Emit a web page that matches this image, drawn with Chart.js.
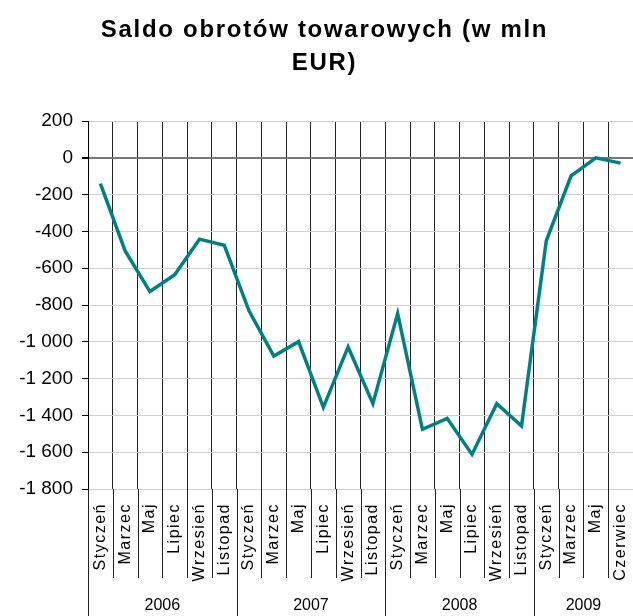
<!DOCTYPE html>
<html>
<head>
<meta charset="utf-8">
<script src="https://cdn.jsdelivr.net/npm/chart.js@4/dist/chart.umd.min.js"></script>
<style>
  html, body { margin: 0; padding: 0; background: #fff; }
  #wrap { width: 633px; height: 616px; position: relative; }
</style>
</head>
<body>
<div id="wrap"><canvas id="c"></canvas></div>
<script>
const titleLines = ['Saldo obrotów towarowych (w mln', 'EUR)'];
const months = ['Styczeń','Marzec','Maj','Lipiec','Wrzesień','Listopad',
                'Styczeń','Marzec','Maj','Lipiec','Wrzesień','Listopad',
                'Styczeń','Marzec','Maj','Lipiec','Wrzesień','Listopad',
                'Styczeń','Marzec','Maj','Czerwiec'];
const years = ['2006','2007','2008','2009'];
const yearCounts = [6, 6, 6, 4];
const saldo = [-140, -506, -727, -636, -442, -475,
               -832, -1077, -999, -1356, -1028, -1336,
               -847, -1476, -1416, -1612, -1336, -1458,
               -451, -98, 0, -29];
const yMin = -1800, yMax = 200, yStep = 200;

function fmt(v) {
  const s = v < 0 ? '-' : '';
  const a = Math.abs(v);
  if (a >= 1000) {
    const th = Math.floor(a / 1000);
    const r = String(a % 1000).padStart(3, '0');
    return s + th + ' ' + r;
  }
  return s + a;
}

const FONT = "'Liberation Sans', Arial, sans-serif";
Chart.defaults.color = '#000';
Chart.defaults.font.family = FONT;

function wrapSpacing(obj, method, spacing, dx) {
  const orig = obj[method].bind(obj);
  obj[method] = function(...args) {
    const ctx = this.ctx;
    ctx.save();
    ctx.letterSpacing = spacing;
    if (dx) ctx.translate(dx, 0);
    orig(...args);
    ctx.restore();
  };
}

const groupPlugin = {
  id: 'groups',
  beforeDraw(chart) {
    const s = chart.scales.x;
    if (!s._lsPatched) {
      wrapSpacing(s, 'drawLabels', '1.5px', 0);
      s._lsPatched = true;
    }
    const t = chart.titleBlock;
    if (t && !t._lsPatched) {
      wrapSpacing(t, 'draw', '1.7px', 8);
      t._lsPatched = true;
    }
  },
  afterDraw(chart) {
    const ctx = chart.ctx;
    const s = chart.scales.x;
    const area = chart.chartArea;
    const n = months.length;
    const w = (s.getPixelForValue(n - 1) - s.getPixelForValue(0)) / (n - 1);
    const boundaries = new Set([0]);
    let acc = 0;
    yearCounts.forEach(c => { acc += c; boundaries.add(acc); });
    ctx.save();
    ctx.strokeStyle = '#222';
    ctx.lineWidth = 1;
    for (let i = 0; i <= n; i++) {
      const x = Math.round(s.getPixelForValue(i) - w / 2) + 0.5;
      const yEnd = (boundaries.has(i) && i < n) ? chart.height : 578;
      ctx.beginPath();
      ctx.moveTo(x, area.bottom);
      ctx.lineTo(x, yEnd);
      ctx.stroke();
    }
    ctx.fillStyle = '#000';
    ctx.font = '16px ' + FONT;
    ctx.textAlign = 'center';
    ctx.textBaseline = 'middle';
    let start = 0;
    years.forEach((yr, k) => {
      const end = start + yearCounts[k];
      const x0 = s.getPixelForValue(start) - w / 2;
      const x1 = s.getPixelForValue(end - 1) + w / 2;
      ctx.fillText(yr, (x0 + x1) / 2, 606);
      start = end;
    });
    ctx.restore();
  }
};

new Chart(document.getElementById('c'), {
  type: 'line',
  data: {
    labels: months,
    datasets: [{
      data: saldo,
      borderColor: '#008080',
      borderWidth: 3.5,
      borderJoinStyle: 'miter',
      pointRadius: 0,
      tension: 0,
      fill: false
    }]
  },
  options: {
    responsive: true,
    maintainAspectRatio: false,
    animation: false,
    events: [],
    layout: { padding: { left: 0, right: 0, top: 0, bottom: 0 } },
    plugins: {
      legend: { display: false },
      tooltip: { enabled: false },
      title: {
        display: true,
        text: titleLines,
        font: { size: 24, weight: 'bold', family: FONT, lineHeight: 1.375 },
        color: '#000',
        padding: { top: 14, bottom: 41 }
      }
    },
    scales: {
      x: {
        type: 'category',
        offset: true,
        border: { display: false },
        grid: {
          display: true,
          offset: true,
          color: '#222',
          lineWidth: 1,
          drawTicks: false
        },
        ticks: {
          autoSkip: false,
          minRotation: 90,
          maxRotation: 90,
          padding: 14,
          font: { size: 16, family: FONT }
        },
        afterFit(scale) {
          scale.height = 127;
          scale.paddingLeft = 0;
          scale.paddingRight = 0;
        }
      },
      y: {
        min: yMin,
        max: yMax,
        border: { display: true, color: '#000', width: 1 },
        grid: {
          color: ctx => (ctx.tick && ctx.tick.value === 0) ? '#777' : '#d0d0d0',
          lineWidth: ctx => (ctx.tick && ctx.tick.value === 0) ? 2 : 1,
          tickColor: '#000',
          tickLength: 6,
          drawTicks: true
        },
        ticks: {
          stepSize: yStep,
          padding: 9,
          font: { size: 19, family: FONT },
          callback: v => fmt(v)
        },
        afterFit(scale) { scale.width = 88; }
      }
    }
  },
  plugins: [groupPlugin]
});
</script>
</body>
</html>
